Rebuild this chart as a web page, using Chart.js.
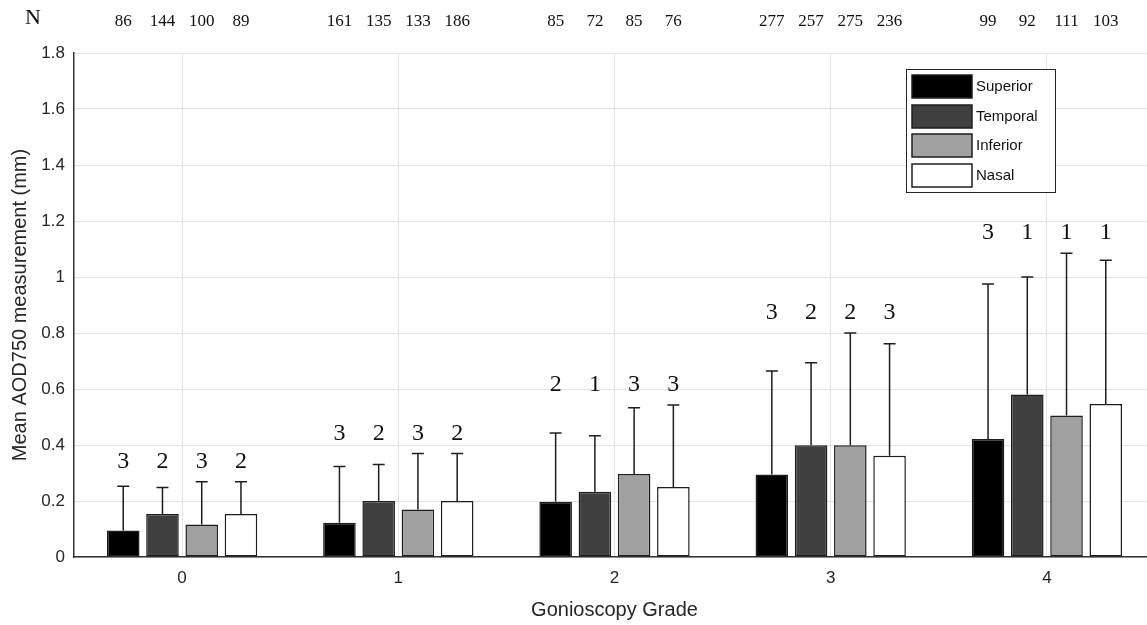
<!DOCTYPE html>
<html>
<head>
<meta charset="utf-8">
<script src="https://cdn.jsdelivr.net/npm/chart.js@4/dist/chart.umd.min.js"></script>
<style>
    body { margin:0; overflow:hidden; background:#fff; }
    #wrap { position:absolute; left:0; top:0; }
</style>
</head>
<body>
<div id="wrap"><canvas id="myChart" width="1165" height="625"></canvas></div>
<script>
    // gonioscopy grades on x axis
    var grades = ["0", "1", "2", "3", "4"];
    var regions = ["Superior", "Temporal", "Inferior", "Nasal"];
    var fills = ["#000000", "#404040", "#a0a0a0", "#ffffff"];

    // mean AOD750 (mm) per region
    var superior = [0.095, 0.122, 0.197, 0.295, 0.421];
    var temporal = [0.154, 0.200, 0.233, 0.399, 0.580];
    var inferior = [0.116, 0.170, 0.296, 0.399, 0.505];
    var nasal    = [0.154, 0.200, 0.250, 0.362, 0.546];

    // upper error bar (SD)
    var superiorSd = [0.158, 0.201, 0.246, 0.369, 0.554];
    var temporalSd = [0.094, 0.130, 0.200, 0.295, 0.420];
    var inferiorSd = [0.153, 0.200, 0.237, 0.401, 0.580];
    var nasalSd    = [0.115, 0.170, 0.293, 0.400, 0.514];

    // numbers printed above each group
    var superiorMark = [3, 3, 2, 3, 3];
    var temporalMark = [2, 2, 1, 2, 1];
    var inferiorMark = [3, 3, 3, 2, 1];
    var nasalMark    = [2, 2, 3, 3, 1];

    // N row at the top
    var superiorN = [86, 161, 85, 277, 99];
    var temporalN = [144, 135, 72, 257, 92];
    var inferiorN = [100, 133, 85, 275, 111];
    var nasalN    = [89, 186, 76, 236, 103];

    var yTicks = [0, 0.2, 0.4, 0.6, 0.8, 1, 1.2, 1.4, 1.6, 1.8];

    var means = [superior, temporal, inferior, nasal];
    var sds = [superiorSd, temporalSd, inferiorSd, nasalSd];
    var marks = [superiorMark, temporalMark, inferiorMark, nasalMark];
    var counts = [superiorN, temporalN, inferiorN, nasalN];

    var sansFont = "'Liberation Sans', Arial, sans-serif";
    var serifFont = "'Liberation Serif', 'DejaVu Serif', serif";

    var datasets = [];
    for (let i = 0; i < regions.length; i++)
    {
        datasets.push({
            label: regions[i],
            data: means[i],
            backgroundColor: fills[i],
            borderColor: "#1e1e1e",
            borderWidth: 1.5,
            borderSkipped: false,
            categoryPercentage: 0.726,
            barPercentage: 0.83
        });
    }

    var extras = {
        id: "extras",
        afterDatasetsDraw: function (chart)
        {
            var ctx = chart.ctx;
            var y = chart.scales.y;
            ctx.save();
            ctx.strokeStyle = "#1e1e1e";
            ctx.lineWidth = 1.5;
            // error bars, upper whisker only
            for (let d = 0; d < datasets.length; d++)
            {
                var meta = chart.getDatasetMeta(d);
                for (let k = 0; k < meta.data.length; k++)
                {
                    var bar = meta.data[k];
                    var top = y.getPixelForValue(means[d][k] + sds[d][k]);
                    ctx.beginPath();
                    ctx.moveTo(bar.x, bar.y);
                    ctx.lineTo(bar.x, top);
                    ctx.moveTo(bar.x - 6, top);
                    ctx.lineTo(bar.x + 6, top);
                    ctx.stroke();
                }
            }
            // numbers above each group
            ctx.fillStyle = "#111";
            ctx.font = "24px " + serifFont;
            ctx.textAlign = "center";
            ctx.textBaseline = "middle";
            for (let k = 0; k < grades.length; k++)
            {
                var high = 0;
                for (let d = 0; d < datasets.length; d++)
                {
                    high = Math.max(high, means[d][k] + sds[d][k]);
                }
                var ly = y.getPixelForValue(high) - 20;
                for (let d = 0; d < datasets.length; d++)
                {
                    var b = chart.getDatasetMeta(d).data[k];
                    ctx.fillText(String(marks[d][k]), b.x, ly);
                }
            }
            ctx.restore();
        },
        afterDraw: function (chart)
        {
            var ctx = chart.ctx;
            var area = chart.chartArea;
            ctx.save();
            // N row
            ctx.fillStyle = "#111";
            ctx.textAlign = "center";
            ctx.textBaseline = "middle";
            ctx.font = "22px " + serifFont;
            ctx.fillText("N", 33, 18);
            ctx.font = "17px " + serifFont;
            for (let d = 0; d < datasets.length; d++)
            {
                var meta = chart.getDatasetMeta(d);
                for (let k = 0; k < meta.data.length; k++)
                {
                    ctx.fillText(String(counts[d][k]), meta.data[k].x, 22);
                }
            }
            // legend box
            var lx = area.right - 249;
            var ly = 69;
            ctx.fillStyle = "#fff";
            ctx.fillRect(lx, ly, 149, 123);
            ctx.strokeStyle = "#262626";
            ctx.lineWidth = 1;
            ctx.strokeRect(lx + 0.5, ly + 0.5, 149, 123);
            ctx.font = "15px " + sansFont;
            ctx.textAlign = "left";
            var rows = [6, 36, 65, 95];
            for (let i = 0; i < regions.length; i++)
            {
                ctx.fillStyle = fills[i];
                ctx.fillRect(lx + 6, ly + rows[i], 60, 23);
                ctx.strokeStyle = "#1e1e1e";
                ctx.lineWidth = 1.5;
                ctx.strokeRect(lx + 6, ly + rows[i], 60, 23);
                ctx.fillStyle = "#111";
                ctx.fillText(regions[i], lx + 70, ly + rows[i] + 12);
            }
            ctx.restore();
        }
    };

    var chart = new Chart(document.getElementById("myChart").getContext("2d"), {
        type: "bar",
        data: {
            labels: grades,
            datasets: datasets
        },
        options: {
            responsive: false,
            animation: false,
            devicePixelRatio: 1,
            layout: { padding: { left: 0, top: 53, right: 10, bottom: 0 } },
            plugins: {
                legend: { display: false },
                tooltip: { enabled: false }
            },
            scales: {
                x: {
                    offset: true,
                    grid: { offset: false, color: "#e3e3e3", drawTicks: false },
                    border: { color: "#333", width: 1.5 },
                    ticks: { color: "#262626", font: { family: sansFont, size: 17 }, padding: 11 },
                    title: {
                        display: true,
                        text: "Gonioscopy Grade",
                        color: "#262626",
                        font: { family: sansFont, size: 20 },
                        padding: { top: 0, bottom: 3 }
                    },
                    afterFit: function (scale) { scale.height = 68; }
                },
                y: {
                    min: 0,
                    max: 1.8,
                    afterBuildTicks: function (scale)
                    {
                        scale.ticks = yTicks.map(function (v) { return { value: v }; });
                    },
                    grid: { color: "#e3e3e3", drawTicks: false },
                    border: { color: "#333", width: 1.5 },
                    ticks: {
                        color: "#262626",
                        font: { family: sansFont, size: 17 },
                        padding: 9,
                        callback: function (v) { return String(+v.toFixed(1)); }
                    },
                    title: {
                        display: true,
                        text: "Mean AOD750 measurement (mm)",
                        color: "#262626",
                        font: { family: sansFont, size: 20 },
                        padding: { top: 8, bottom: 0 }
                    },
                    afterFit: function (scale) { scale.width = 74; }
                }
            }
        },
        plugins: [extras]
    });
</script>
</body>
</html>
